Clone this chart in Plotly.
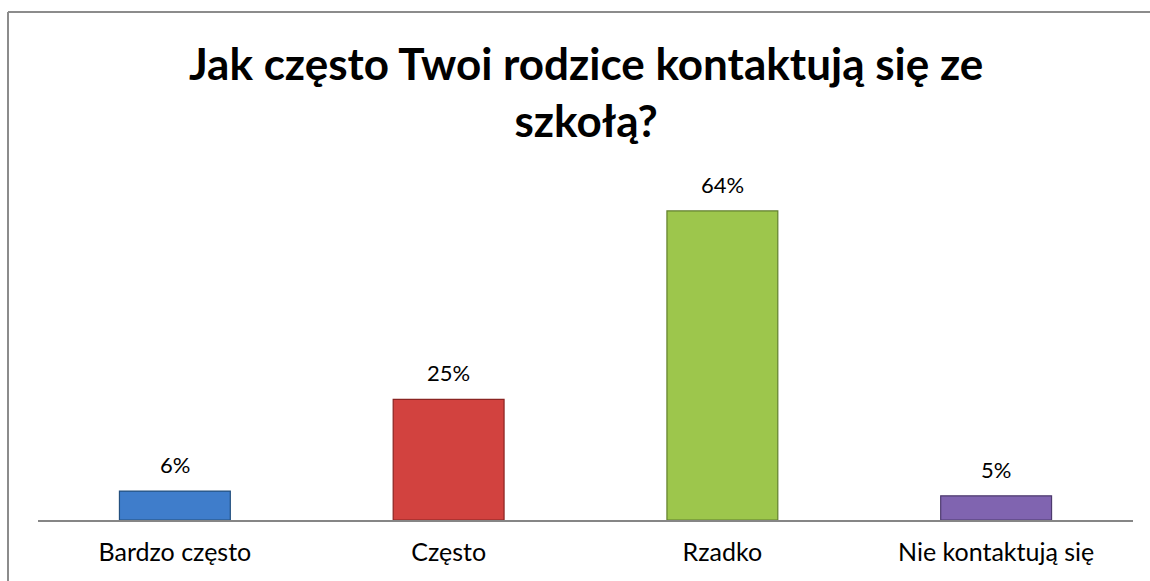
import plotly.graph_objects as go

# Survey answers and their shares
categories = ["Bardzo często", "Często", "Rzadko", "Nie kontaktują się"]
shares = [0.06, 0.25, 0.64, 0.05]
labels = ["6%", "25%", "64%", "5%"]
fill_colors = ["#3f7dcb", "#d2423f", "#9dc64c", "#8064b0"]
edge_colors = ["#24507f", "#8a2422", "#617f2c", "#4d3a6e"]

title_text = "Jak często Twoi rodzice kontaktują się ze<br>szkołą?"

W, H = 1150, 581
ML, MR, MT, MB = 38, 17, 182, 61
FONT = "Lato, Carlito, sans-serif"

fig = go.Figure()
fig.add_trace(go.Bar(
    x=categories,
    y=shares,
    marker=dict(color=fill_colors, line=dict(color=edge_colors, width=1.2)),
    hoverinfo="skip",
))

# value labels above each bar
for cat, val, lab in zip(categories, shares, labels):
    fig.add_annotation(
        x=cat, y=val, text=lab, showarrow=False,
        yanchor="bottom", yshift=11,
        font=dict(family=FONT, size=22, color="#000000"),
    )

pw = W - ML - MR
ph = H - MT - MB

# two-line chart title
fig.add_annotation(
    x=0.5, xref="paper", y=1 + (MT - 91) / ph, yref="paper",
    xanchor="center", yanchor="middle", showarrow=False,
    text="<b>" + title_text + "</b>",
    font=dict(family=FONT, size=44, color="#000000"),
)

# chart frame: left and top edges
fx = (8 - ML) / pw
fy = 1 + (MT - 12) / ph
fig.add_shape(type="line", xref="paper", yref="paper",
              x0=fx, x1=fx, y0=fy, y1=-MB / ph - 0.1,
              line=dict(color="#8c8c8c", width=2))
fig.add_shape(type="line", xref="paper", yref="paper",
              x0=fx, x1=1 + MR / pw + 0.1, y0=fy, y1=fy,
              line=dict(color="#8c8c8c", width=2))

fig.update_layout(
    width=W, height=H,
    margin=dict(l=ML, r=MR, t=MT, b=MB),
    paper_bgcolor="white", plot_bgcolor="white",
    bargap=0.595,
    showlegend=False,
    xaxis=dict(
        showline=True, linecolor="#868686", linewidth=1.5,
        showgrid=False, ticks="outside", ticklen=9, tickcolor="rgba(0,0,0,0)",
        tickfont=dict(family=FONT, size=25, color="#000000"),
    ),
    yaxis=dict(range=[0, 0.7], visible=False, showgrid=False, zeroline=False),
)

fig.write_html("out.html")
